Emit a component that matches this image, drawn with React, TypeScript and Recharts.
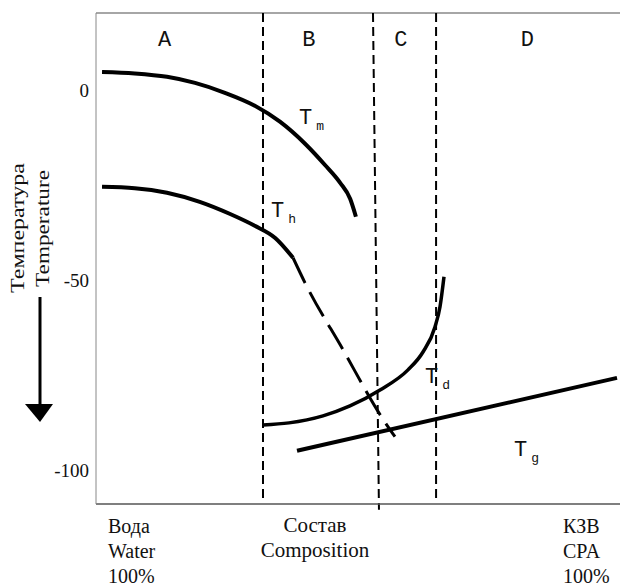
import React from 'react';
import { LineChart, Line, XAxis, YAxis, ReferenceLine, ReferenceDot } from 'recharts';

// Composition (% of CPA, 0..100) vs temperature (°C)
const tmCurve = [
  { c: 1.15, t: 4.8 }, { c: 7.4, t: 4.4 }, { c: 13.55, t: 3.5 }, { c: 18.9, t: 1.9 },
  { c: 24.6, t: -0.7 }, { c: 30.3, t: -4.1 }, { c: 35.1, t: -8.3 }, { c: 39.9, t: -14.1 },
  { c: 43.7, t: -19.7 }, { c: 46.6, t: -24.4 }, { c: 48.5, t: -28.6 }, { c: 49.6, t: -33.3 },
];
const thCurve = [
  { c: 1.15, t: -25.45 }, { c: 7.4, t: -25.8 }, { c: 13.55, t: -27.0 }, { c: 19.8, t: -29.4 },
  { c: 25.6, t: -32.6 }, { c: 30.3, t: -35.7 }, { c: 34.2, t: -38.9 }, { c: 37.6, t: -44.1 },
];
const thExtrapolated = [
  { c: 37.6, t: -44.1 }, { c: 39.89, t: -50.7 }, { c: 47.14, t: -68.3 }, { c: 54.58, t: -86.2 }, { c: 57.06, t: -91.2 },
];
const tdCurve = [
  { c: 31.87, t: -88.1 }, { c: 36.83, t: -87.55 }, { c: 43.32, t: -85.7 }, { c: 48.47, t: -83.1 },
  { c: 54.2, t: -78.9 }, { c: 59.54, t: -73.6 }, { c: 62.4, t: -68.9 }, { c: 64.69, t: -62.3 },
  { c: 65.65, t: -57.0 }, { c: 66.41, t: -49.1 },
];
const tgCurve = [
  { c: 38.36, t: -94.9 }, { c: 99.43, t: -75.7 },
];

// Region boundaries (dashed verticals)
const boundaryTop = [31.87, 52.86, 64.9];
const boundaryBottom = [31.87, 54.0, 64.9];
const boundaryBottomT = [-107.8, -110.4, -107.8];

const regionNames = ['A', 'B', 'C', 'D'];
const regionCenters = [13.1, 40.6, 58.2, 82.3];
const regionLabelT = 11.7;

const curveLabelNames = ['m', 'h', 'd', 'g'];
const curveLabelC = [38.74, 33.4, 62.8, 79.77];
const curveLabelT = [-8.9, -33.3, -77.0, -96.2];

const yTicks = [0, -50, -100];
const yDomain = [-108.9, 20.3];
const xDomain = [0, 100];
const waterLabel = ['Вода', 'Water', '100%'];
const cpaLabel = ['КЗВ', 'CPA', '100%'];
const compositionLabel = ['Состав', 'Composition'];
const yTitle = ['Температура', 'Temperature'];

const SERIF = 'Liberation Serif';
const MONO = 'Liberation Mono';

const XTick = (props: any) => {
  const { x, payload } = props;
  const lines = payload.value === 0 ? waterLabel : cpaLabel;
  const dx = payload.value === 0 ? 12 : -45;
  return (
    <g>
      {lines.map((s, i) => (
        <text key={i} x={x + dx} y={533 + i * 25} style={{ fontFamily: SERIF, fontSize: 20 }} fill="#111">
          {s}
        </text>
      ))}
    </g>
  );
};

const YTick = (props: any) => {
  const { x, y, payload } = props;
  return (
    <text x={x} y={y} dy={7} textAnchor="end" style={{ fontFamily: SERIF, fontSize: 19 }} fill="#111">
      {payload.value}
    </text>
  );
};

const CompositionTitle = (props: any) => {
  const vb = props.viewBox || { x: 96 };
  const cx = vb.x + 219;
  return (
    <g>
      {compositionLabel.map((s, i) => (
        <text key={i} x={cx} y={532 + i * 25} textAnchor="middle" style={{ fontFamily: SERIF, fontSize: 21 }} fill="#111">
          {s}
        </text>
      ))}
    </g>
  );
};

const YTitle = () => (
  <g>
    <text transform="translate(24,228) rotate(-90)" textAnchor="middle" style={{ fontFamily: SERIF, fontSize: 19 }}
      textLength={130} lengthAdjust="spacingAndGlyphs" fill="#111">{yTitle[0]}</text>
    <text transform="translate(49,228.5) rotate(-90)" textAnchor="middle" style={{ fontFamily: SERIF, fontSize: 19 }}
      textLength={117} lengthAdjust="spacingAndGlyphs" fill="#111">{yTitle[1]}</text>
    <line x1={40} y1={297} x2={40} y2={406} stroke="#000" strokeWidth={3} />
    <polygon points="25,404 53,404 40,422" fill="#000" />
  </g>
);

const regionLabel = (text: string) => (props: any) => {
  const vb = props.viewBox;
  return (
    <text x={vb.x} y={vb.y} textAnchor="middle" style={{ fontFamily: MONO, fontSize: 22 }} fill="#111">{text}</text>
  );
};

const curveLabel = (sub: string) => (props: any) => {
  const vb = props.viewBox;
  return (
    <text x={vb.x} y={vb.y} style={{ fontFamily: MONO, fontSize: 22 }} fill="#111">
      T<tspan dx={4} dy={6} style={{ fontSize: 13 }}>{sub}</tspan>
    </text>
  );
};

export default function App() {
  return (
    <div style={{ position: 'absolute', left: 0, top: 0, background: '#fff' }}>
      <LineChart width={620} height={586} margin={{ top: 13, right: 0, left: 0, bottom: 0 }}>
        <XAxis type="number" dataKey="c" domain={xDomain} ticks={[0, 100]} height={82}
          axisLine={{ stroke: '#555', strokeWidth: 1.5 }} tickLine={false} tick={<XTick />}
          label={{ content: <CompositionTitle /> }} allowDataOverflow />
        <YAxis type="number" dataKey="t" domain={yDomain} ticks={yTicks} width={96}
          axisLine={{ stroke: '#888', strokeWidth: 1 }} tickLine={false} tickSize={6} tickMargin={1}
          tick={<YTick />} label={{ content: <YTitle /> }} allowDataOverflow />
        <ReferenceLine y={yDomain[1]} stroke="#888" strokeWidth={1.5} ifOverflow="visible" />
        {boundaryTop.map((c, i) => (
          <ReferenceLine key={'b' + i} ifOverflow="visible" stroke="#000" strokeWidth={2} strokeDasharray="9 5"
            segment={[{ x: c, y: yDomain[1] }, { x: boundaryBottom[i], y: boundaryBottomT[i] }]} />
        ))}
        <Line data={tmCurve} dataKey="t" type="monotone" stroke="#000" strokeWidth={4} dot={false} activeDot={false} isAnimationActive={false} />
        <Line data={thCurve} dataKey="t" type="monotone" stroke="#000" strokeWidth={4} dot={false} activeDot={false} isAnimationActive={false} />
        <Line data={thExtrapolated} dataKey="t" type="monotone" stroke="#000" strokeWidth={3} strokeDasharray="28 10" dot={false} activeDot={false} isAnimationActive={false} />
        <Line data={tdCurve} dataKey="t" type="monotone" stroke="#000" strokeWidth={3.5} dot={false} activeDot={false} isAnimationActive={false} />
        <Line data={tgCurve} dataKey="t" type="linear" stroke="#000" strokeWidth={4} dot={false} activeDot={false} isAnimationActive={false} />
        {regionNames.map((n, i) => (
          <ReferenceDot key={'r' + n} x={regionCenters[i]} y={regionLabelT} r={0} fill="none" stroke="none"
            ifOverflow="visible" label={{ content: regionLabel(n) }} />
        ))}
        {curveLabelNames.map((n, i) => (
          <ReferenceDot key={'t' + n} x={curveLabelC[i]} y={curveLabelT[i]} r={0} fill="none" stroke="none"
            ifOverflow="visible" label={{ content: curveLabel(n) }} />
        ))}
      </LineChart>
    </div>
  );
}
